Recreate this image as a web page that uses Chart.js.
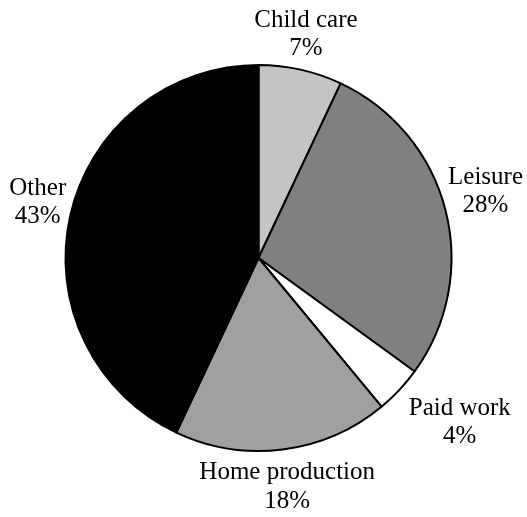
<!DOCTYPE html>
<html>
<head>
<meta charset="utf-8">
<script src="https://cdn.jsdelivr.net/npm/chart.js@4/dist/chart.umd.min.js"></script>
<style>
  html, body { margin: 0; padding: 0; background: #ffffff; }
  #wrap { width: 527px; height: 517px; }
</style>
</head>
<body>
<div id="wrap"><canvas id="c" width="527" height="517"></canvas></div>
<script>
// Time-use shares
const categories = ['Child care', 'Leisure', 'Paid work', 'Home production', 'Other'];
const shares = [7, 28, 4, 18, 43];
const sliceColors = ['#c4c4c4', '#808080', '#ffffff', '#a0a0a0', '#000000'];

// Outside label placement: extra distance beyond the rim (px) and a small angular nudge (deg)
const labelGap = [37, 44, 66, 36, 35];
const labelNudge = [-0.7, -2.3, -4.2, 0, 1.9];

const outsideLabels = {
  id: 'outsideLabels',
  afterDatasetsDraw(chart) {
    const ctx = chart.ctx;
    const meta = chart.getDatasetMeta(0);
    ctx.save();
    ctx.fillStyle = '#000000';
    ctx.font = '25px "Liberation Serif", "Times New Roman", serif';
    ctx.textAlign = 'center';
    ctx.textBaseline = 'alphabetic';
    meta.data.forEach((arc, i) => {
      const p = arc.getProps(['x', 'y', 'startAngle', 'endAngle', 'outerRadius'], true);
      const mid = (p.startAngle + p.endAngle) / 2 + labelNudge[i] * Math.PI / 180;
      const d = p.outerRadius + labelGap[i];
      const ax = p.x + Math.cos(mid) * d;
      const ay = p.y + Math.sin(mid) * d;
      const pct = Math.round(shares[i] / shares.reduce((a, b) => a + b, 0) * 100) + '%';
      ctx.fillText(categories[i], ax, ay - 6);
      ctx.fillText(pct, ax, ay + 22.5);
    });
    ctx.restore();
  }
};

new Chart(document.getElementById('c'), {
  type: 'pie',
  data: {
    labels: categories,
    datasets: [{
      data: shares,
      backgroundColor: sliceColors,
      borderColor: '#000000',
      borderWidth: 2,
      radius: 193
    }]
  },
  options: {
    responsive: false,
    animation: false,
    events: [],
    layout: { padding: { left: 0, right: 10, top: 0, bottom: 1 } },
    plugins: {
      legend: { display: false },
      title: { display: false },
      tooltip: { enabled: false }
    }
  },
  plugins: [outsideLabels]
});
</script>
</body>
</html>
